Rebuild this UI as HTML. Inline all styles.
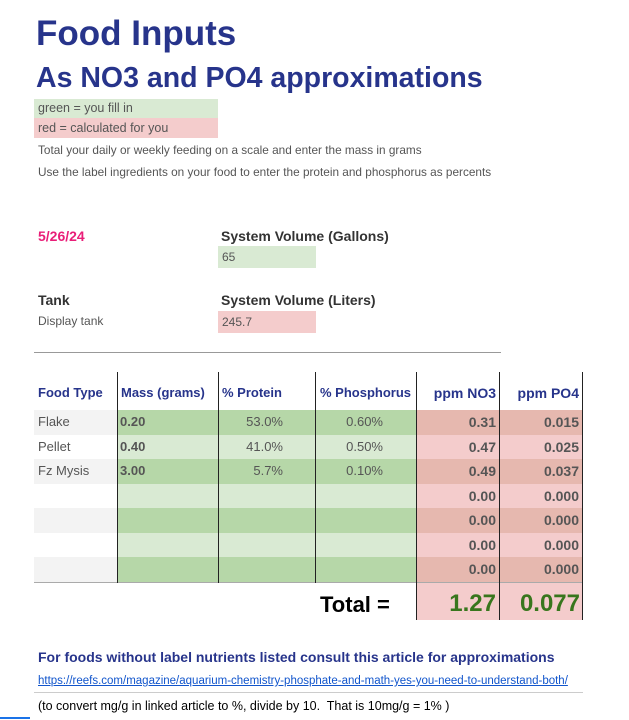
<!DOCTYPE html>
<html><head><meta charset="utf-8"><style>
*{margin:0;padding:0;box-sizing:border-box}
body{width:629px;height:720px;background:#fff;font-family:"Liberation Sans",sans-serif;position:relative;overflow:hidden;color:#555}
.a{position:absolute;white-space:nowrap}
.blue{color:#27348b;font-weight:bold}
.g1{background:#b6d7a8}.g2{background:#d9ead3}.r1{background:#e6b8af}.r2{background:#f4cccc}
.vl{position:absolute;width:1px;background:#222}
.cell{position:absolute;font-size:13px;line-height:24.5px;height:24.5px}
</style></head><body>
<div class="a blue" style="left:36px;top:14px;font-size:35px">Food Inputs</div>
<div class="a blue" style="left:36px;top:62px;font-size:28.5px">As NO3 and PO4 approximations</div>
<div class="a g2" style="left:34px;top:99px;width:184px;height:19px;font-size:12.5px;line-height:19px;padding-left:4px">green = you fill in</div>
<div class="a r2" style="left:34px;top:118px;width:184px;height:20px;font-size:12.5px;line-height:20px;padding-left:4px">red = calculated for you</div>
<div class="a" style="left:38px;top:143px;font-size:11.8px">Total your daily or weekly feeding on a scale and enter the mass in grams</div>
<div class="a" style="left:38px;top:165px;font-size:11.8px">Use the label ingredients on your food to enter the protein and phosphorus as percents</div>
<div class="a" style="left:38px;top:228px;font-size:14px;font-weight:bold;color:#e91e78">5/26/24</div>
<div class="a" style="left:221px;top:228px;font-size:14px;font-weight:bold;color:#333">System Volume (Gallons)</div>
<div class="a g2" style="left:218px;top:246px;width:98px;height:22px;font-size:12px;line-height:22px;padding-left:4px">65</div>
<div class="a" style="left:38px;top:292px;font-size:14px;font-weight:bold;color:#333">Tank</div>
<div class="a" style="left:38px;top:314px;font-size:12px">Display tank</div>
<div class="a" style="left:221px;top:292px;font-size:14px;font-weight:bold;color:#333">System Volume (Liters)</div>
<div class="a r2" style="left:218px;top:311px;width:98px;height:22px;font-size:12px;line-height:22px;padding-left:4px">245.7</div>
<div class="a" style="left:34px;top:352px;width:467px;height:1px;background:#999"></div>

<div class="a blue" style="left:38px;top:385px;font-size:13px">Food Type</div>
<div class="a blue" style="left:121px;top:385px;font-size:13px">Mass (grams)</div>
<div class="a blue" style="left:222px;top:385px;font-size:13px">% Protein</div>
<div class="a blue" style="left:320px;top:385px;font-size:13px">% Phosphorus</div>
<div class="a blue" style="left:416px;width:80px;text-align:right;top:385px;font-size:14px">ppm NO3</div>
<div class="a blue" style="left:499px;width:80px;text-align:right;top:385px;font-size:14px">ppm PO4</div>

<div id="rows"></div>
<script>
var data=[["Flake","0.20","53.0%","0.60%","0.31","0.015"],["Pellet","0.40","41.0%","0.50%","0.47","0.025"],["Fz Mysis","3.00","5.7%","0.10%","0.49","0.037"],["","","","","0.00","0.000"],["","","","","0.00","0.000"],["","","","","0.00","0.000"],["","","","","0.00","0.000"]];
var h="";
data.forEach(function(r,i){var y=410+i*24.5,o=i%2==0;var g=o?"g1":"g2",rc=o?"r1":"r2";
h+='<div class="cell" style="left:34px;top:'+y+'px;width:83px;background:'+(o?'#f3f3f3':'#fff')+';padding-left:4px">'+r[0]+'</div>';
h+='<div class="cell '+g+'" style="left:117px;top:'+y+'px;width:101px;padding-left:3px;font-weight:bold">'+r[1]+'</div>';
h+='<div class="cell '+g+'" style="left:218px;top:'+y+'px;width:97px;text-align:right;padding-right:32px">'+r[2]+'</div>';
h+='<div class="cell '+g+'" style="left:315px;top:'+y+'px;width:101px;text-align:right;padding-right:33px">'+r[3]+'</div>';
h+='<div class="cell '+rc+'" style="left:416px;top:'+y+'px;width:83px;text-align:right;padding-right:3px;font-weight:bold;font-size:14px">'+r[4]+'</div>';
h+='<div class="cell '+rc+'" style="left:499px;top:'+y+'px;width:83px;text-align:right;padding-right:3px;font-weight:bold;font-size:14px">'+r[5]+'</div>';});
document.getElementById("rows").innerHTML=h;
</script>
<div class="a" style="left:34px;top:582px;width:548px;height:1px;background:#aaa"></div>
<div class="a r2" style="left:416px;top:583px;width:83px;height:37px"></div>
<div class="a r2" style="left:499px;top:583px;width:83px;height:37px"></div>
<div class="vl" style="left:117px;top:372px;height:211px"></div>
<div class="vl" style="left:218px;top:372px;height:211px"></div>
<div class="vl" style="left:315px;top:372px;height:211px"></div>
<div class="vl" style="left:416px;top:372px;height:248px"></div>
<div class="vl" style="left:499px;top:372px;height:248px"></div>
<div class="vl" style="left:582px;top:372px;height:248px"></div>
<div class="a" style="left:320px;top:592px;font-size:22px;font-weight:bold;color:#000">Total =</div>
<div class="a" style="left:416px;width:80px;text-align:right;top:590px;font-size:24px;font-weight:bold;color:#38761d">1.27</div>
<div class="a" style="left:499px;width:81px;text-align:right;top:590px;font-size:24px;font-weight:bold;color:#38761d">0.077</div>

<div class="a blue" style="left:38px;top:649px;font-size:14px">For foods without label nutrients listed consult this article for approximations</div>
<div class="a" style="left:38px;top:675px;font-size:11.5px;color:#1155cc;text-decoration:underline">https://reefs.com/magazine/aquarium-chemistry-phosphate-and-math-yes-you-need-to-understand-both/</div>
<div class="a" style="left:34px;top:692px;width:549px;height:1px;background:#ccc"></div>
<div class="a" style="left:38px;top:699px;font-size:12.5px;color:#000">(to convert mg/g in linked article to %, divide by 10.&nbsp; That is 10mg/g = 1% )</div>
<div class="a" style="left:0;top:717px;width:30px;height:2px;background:#1a73e8"></div>
</body></html>
